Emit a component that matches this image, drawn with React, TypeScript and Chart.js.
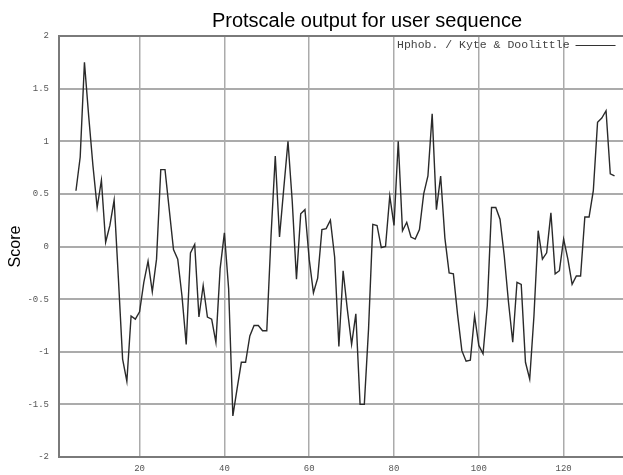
import React, { useEffect, useRef } from "react";
import { Chart, registerables } from "chart.js";

Chart.register(...registerables);

const positions = [
  5, 6, 7, 8, 9, 10, 11, 12, 13, 14, 15, 16, 17, 18, 19, 20, 21, 22, 23, 24,
  25, 26, 27, 28, 29, 30, 31, 32, 33, 34, 35, 36, 37, 38, 39, 40, 41, 42, 43, 44,
  45, 46, 47, 48, 49, 50, 51, 52, 53, 54, 55, 56, 57, 58, 59, 60, 61, 62, 63, 64,
  65, 66, 67, 68, 69, 70, 71, 72, 73, 74, 75, 76, 77, 78, 79, 80, 81, 82, 83, 84,
  85, 86, 87, 88, 89, 90, 91, 92, 93, 94, 95, 96, 97, 98, 99, 100, 101, 102, 103, 104,
  105, 106, 107, 108, 109, 110, 111, 112, 113, 114, 115, 116, 117, 118, 119, 120, 121, 122, 123, 124,
  125, 126, 127, 128, 129, 130, 131, 132,
];

const scores = [
  0.53, 0.85, 1.75, 1.24, 0.77, 0.37, 0.63, 0.04, 0.2, 0.44, -0.3, -1.07, -1.28, -0.66, -0.69, -0.62, -0.34, -0.14, -0.43, -0.12,
  0.73, 0.73, 0.35, -0.03, -0.12, -0.47, -0.93, -0.06, 0.02, -0.67, -0.37, -0.67, -0.69, -0.91, -0.21, 0.13, -0.4, -1.61, -1.35, -1.1,
  -1.1, -0.85, -0.75, -0.75, -0.8, -0.8, 0.1, 0.86, 0.09, 0.55, 1.0, 0.43, -0.31, 0.31, 0.35, -0.12, -0.44, -0.3, 0.16, 0.17,
  0.25, -0.1, -0.95, -0.23, -0.6, -0.93, -0.64, -1.5, -1.5, -0.78, 0.21, 0.2, -0.01, 0.0, 0.48, 0.2, 1.0, 0.15, 0.23, 0.09,
  0.07, 0.16, 0.5, 0.67, 1.26, 0.35, 0.67, 0.08, -0.25, -0.26, -0.65, -0.99, -1.09, -1.08, -0.66, -0.94, -1.02, -0.56, 0.37, 0.37,
  0.26, -0.09, -0.53, -0.91, -0.34, -0.36, -1.1, -1.26, -0.66, 0.15, -0.12, -0.06, 0.32, -0.26, -0.23, 0.07, -0.12, -0.36, -0.28, -0.28,
  0.28, 0.28, 0.53, 1.18, 1.22, 1.29, 0.69, 0.67,
];

const xTicks = [20, 40, 60, 80, 100, 120];
const yTicks = [-2, -1.5, -1, -0.5, 0, 0.5, 1, 1.5, 2];

const chartTitle = "Protscale output for user sequence";
const yAxisTitle = "Score";
const seriesLabel = "Hphob. / Kyte & Doolittle";

export default function App() {
  const ref = useRef<HTMLCanvasElement>(null);

  useEffect(() => {
    if (!ref.current) return;

    const overlay = {
      id: "overlay",
      afterDraw(chart: any) {
        const ctx = chart.ctx;
        const area = chart.chartArea;
        ctx.save();
        // darker top frame line
        ctx.strokeStyle = "#7a7a7a";
        ctx.lineWidth = 2;
        ctx.beginPath();
        ctx.moveTo(area.left, area.top);
        ctx.lineTo(area.right, area.top);
        ctx.stroke();
        // main title
        ctx.fillStyle = "#000";
        ctx.font = '20px "Liberation Sans", Arial, sans-serif';
        ctx.textAlign = "center";
        ctx.textBaseline = "alphabetic";
        ctx.fillText(chartTitle, 367, 27);
        // legend
        ctx.font = '11.5px "Liberation Mono", monospace';
        ctx.fillStyle = "#444";
        ctx.textAlign = "left";
        ctx.textBaseline = "middle";
        const lx = chart.scales.x.getPixelForValue(80) + 3;
        const ly = area.top + 9;
        ctx.fillText(seriesLabel, lx, ly);
        const w = ctx.measureText(seriesLabel).width;
        ctx.strokeStyle = "#333";
        ctx.lineWidth = 1;
        ctx.beginPath();
        ctx.moveTo(lx + w + 6, ly + 0.5);
        ctx.lineTo(lx + w + 46, ly + 0.5);
        ctx.stroke();
        ctx.restore();
      },
    };

    const chart = new Chart(ref.current, {
      type: "line",
      data: {
        datasets: [
          {
            label: seriesLabel,
            data: positions.map((p, i) => ({ x: p, y: scores[i] })),
            borderColor: "#2a2a2a",
            borderWidth: 1.4,
            pointRadius: 0,
            tension: 0,
            fill: false,
          },
        ],
      },
      options: {
        animation: false,
        responsive: false,
        maintainAspectRatio: false,
        layout: { padding: { top: 36, left: 0, right: 0, bottom: 0 } },
        plugins: {
          legend: { display: false },
          title: { display: false },
          tooltip: { enabled: false },
        },
        scales: {
          x: {
            type: "linear",
            min: 1,
            max: 134,
            afterBuildTicks: (s: any) => {
              s.ticks = xTicks.map((v) => ({ value: v }));
            },
            afterFit: (s: any) => {
              s.height = 18;
            },
            grid: { color: "#ababab", lineWidth: 1.5, drawTicks: false },
            border: { color: "#7a7a7a", width: 2 },
            ticks: {
              padding: 6,
              color: "#555",
              font: { family: '"Liberation Mono", monospace', size: 9 },
              maxRotation: 0,
              autoSkip: false,
              callback: (v: any) => String(v),
            },
          },
          y: {
            min: -2,
            max: 2,
            afterBuildTicks: (s: any) => {
              s.ticks = yTicks.map((v) => ({ value: v }));
            },
            afterFit: (s: any) => {
              s.width = 59;
            },
            grid: { color: "#ababab", lineWidth: 2, drawTicks: false },
            border: { color: "#7a7a7a", width: 2 },
            ticks: {
              padding: 10,
              color: "#555",
              font: { family: '"Liberation Mono", monospace', size: 9 },
              autoSkip: false,
              callback: (v: any) => String(v),
            },
            title: {
              display: true,
              text: yAxisTitle,
              color: "#000",
              font: { family: '"Liberation Sans", Arial, sans-serif', size: 16 },
              padding: { top: 6, bottom: 0 },
            },
          },
        },
      },
      plugins: [overlay],
    });

    return () => chart.destroy();
  }, []);

  return (
    <div style={{ position: "absolute", left: 0, top: 0, width: 623, height: 475, background: "#fff" }}>
      <canvas ref={ref} width={623} height={475} style={{ display: "block" }} />
    </div>
  );
}
